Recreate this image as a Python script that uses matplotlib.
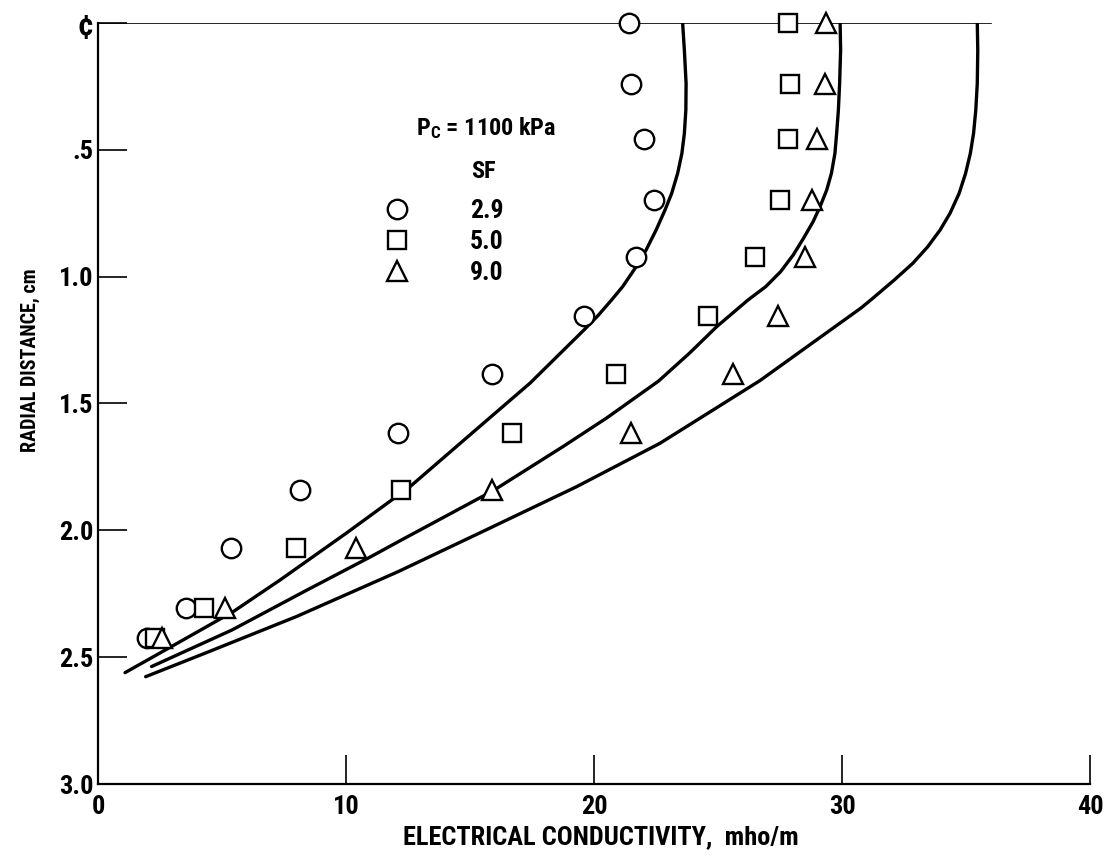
import matplotlib
matplotlib.use('Agg')
import matplotlib.pyplot as plt
from matplotlib import font_manager

# narrow lettering if one is installed
installed = {f.name for f in font_manager.fontManager.ttflist}
narrow = next((n for n in ['Liberation Sans Narrow', 'DejaVu Sans Condensed',
                           'Roboto Condensed', 'Open Sans Condensed'] if n in installed),
              'DejaVu Sans')
plt.rcParams['font.family'] = [narrow, 'DejaVu Sans']
plt.rcParams['font.weight'] = 'bold'
plt.rcParams['axes.labelweight'] = 'bold'
plt.rcParams['mathtext.default'] = 'regular'

# measured conductivity (mho/m) vs radial distance from the centerline (cm)
radius = [0.0, 0.24, 0.46, 0.70, 0.925, 1.155, 1.383, 1.615, 1.842, 2.07, 2.307, 2.425]
cond_sf29 = [21.4, 21.5, 22.0, 22.4, 21.7, 19.6, 15.9, 12.1, 8.15, 5.35, 3.55, 1.96]
cond_sf50 = [27.8, 27.9, 27.8, 27.5, 26.5, 24.6, 20.9, 16.7, 12.2, 8.0, 4.29, 2.3]
cond_sf90 = [29.35, 29.3, 29.0, 28.8, 28.5, 27.4, 25.6, 21.5, 15.9, 10.4, 5.12, 2.57]

# predicted profiles
curve_r_sf29 = [0.0, 0.108, 0.239, 0.344, 0.436, 0.515, 0.593, 0.672, 0.738, 0.817,
                0.895, 0.961, 1.04, 1.093, 1.155, 1.21, 1.42, 1.59, 1.828, 2.01,
                2.196, 2.32, 2.445, 2.561]
curve_c_sf29 = [23.57, 23.64, 23.71, 23.70, 23.64, 23.54, 23.37, 23.13, 22.86, 22.5,
                22.1, 21.7, 21.15, 20.7, 20.15, 19.6, 17.42, 15.4, 12.58, 10.03,
                7.34, 5.46, 3.2, 1.09]
curve_r_sf50 = [0.0, 0.108, 0.239, 0.344, 0.436, 0.515, 0.593, 0.659, 0.725, 0.784,
                0.85, 0.915, 0.981, 1.04, 1.093, 1.198, 1.30, 1.412, 1.558, 1.67,
                1.844, 2.04, 2.104, 2.242, 2.393, 2.537]
curve_c_sf50 = [29.92, 29.94, 29.9, 29.85, 29.78, 29.71, 29.57, 29.38, 29.11, 28.83,
                28.44, 28.03, 27.52, 26.92, 26.2, 24.94, 23.87, 22.6, 20.5, 18.75,
                15.93, 12.2, 11.0, 8.3, 5.4, 2.16]
curve_r_sf90 = [0.0, 0.108, 0.239, 0.344, 0.436, 0.515, 0.593, 0.672, 0.751, 0.817,
                0.883, 0.948, 1.014, 1.093, 1.125, 1.41, 1.657, 1.828, 2.01, 2.163,
                2.34, 2.485, 2.577]
curve_c_sf90 = [35.45, 35.47, 35.45, 35.39, 35.3, 35.17, 34.98, 34.72, 34.35, 33.95,
                33.45, 32.85, 32.1, 31.15, 30.75, 26.69, 22.66, 19.3, 15.4, 12.1,
                8.0, 4.3, 1.92]

sf_labels = ['2.9', '5.0', '9.0']
xticks = [0, 10, 20, 30, 40]
yticks = [0.0, 0.5, 1.0, 1.5, 2.0, 2.5, 3.0]
ytick_labels = ['\u00a2', '.5', '1.0', '1.5', '2.0', '2.5', '3.0']

fig = plt.figure(figsize=(11.19, 8.58), dpi=100)
ax = fig.add_axes([0.0876, 0.0862, 0.8866, 0.8873])

mk = dict(ls='none', mfc='white', mec='black', mew=1.7, clip_on=False, zorder=3)
h1, = ax.plot(cond_sf29, radius, marker='o', ms=14, **mk)
h2, = ax.plot(cond_sf50, radius, marker='s', ms=13, **mk)
h3, = ax.plot(cond_sf90, radius, marker='^', ms=14, **mk)

for c, r in [(curve_c_sf29, curve_r_sf29), (curve_c_sf50, curve_r_sf50),
             (curve_c_sf90, curve_r_sf90)]:
    ax.plot(c, r, color='black', lw=2.4, solid_capstyle='round',
            solid_joinstyle='round', zorder=2)

# centerline
ax.axhline(0, xmin=0, xmax=36 / 40, color='black', lw=1.2, zorder=1)

ax.set_xlim(0, 40)
ax.set_ylim(3.0, 0)
ax.set_xticks(xticks)
ax.set_yticks(yticks)
ax.set_yticklabels(ytick_labels)
ax.tick_params(direction='in', length=21, width=1.2, labelsize=19)
ax.tick_params(axis='x', pad=8)
ax.tick_params(axis='y', pad=3)
ax.get_yticklabels()[0].set_fontsize(23)
for s in ['top', 'right']:
    ax.spines[s].set_visible(False)
for s in ['left', 'bottom']:
    ax.spines[s].set_linewidth(1.6)

ax.set_xlabel('ELECTRICAL CONDUCTIVITY,  mho/m', fontsize=19)
ax.xaxis.set_label_coords(0.507, -0.054)
ax.set_ylabel('RADIAL DISTANCE, cm', fontsize=14.5)
ax.yaxis.set_label_coords(-0.058, 0.557)

ax.text(15.65, 0.415, 'P$_C$ = 1100 kPa', fontsize=17.5, ha='center', va='center')
ax.text(15.52, 0.588, 'SF', fontsize=17.5, ha='center', va='center')
ax.legend([h1, h2, h3], sf_labels, loc='upper left', bbox_to_anchor=(0.2885, 0.768),
          frameon=False, fontsize=18.5, handlelength=1.0, handletextpad=2.34,
          labelspacing=0.26, borderpad=0, borderaxespad=0, numpoints=1)

fig.savefig('out.png', dpi=100)
